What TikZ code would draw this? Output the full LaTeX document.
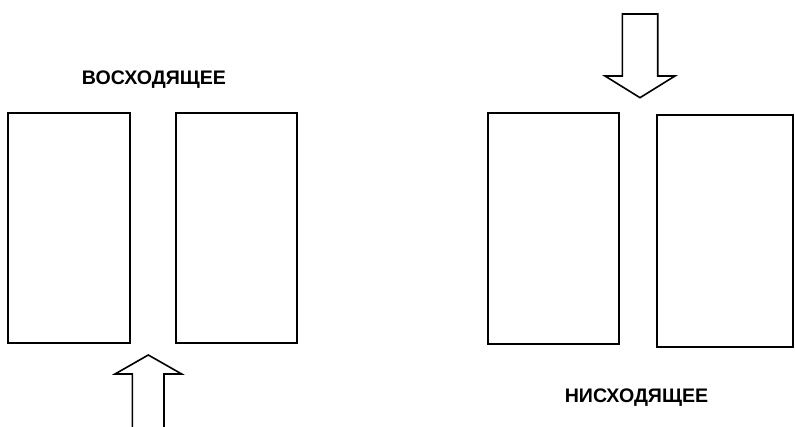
\documentclass[tikz,border=0pt]{standalone}
\usepackage{fontspec}
\setmainfont{Liberation Sans}
\usetikzlibrary{positioning}
\begin{document}
\begin{tikzpicture}[x=1pt,y=-1pt,line width=1.6pt,
  slab/.style={draw,rectangle,inner sep=0pt},
  caption/.style={font=\fontsize{19.6}{22}\selectfont\bfseries,inner sep=0pt},
  blockarrow/.style={draw,line join=miter}]
\useasboundingbox (0,0) rectangle (795,427);
% ascending flow
\node[slab,minimum width=122pt,minimum height=230pt] (upleft) at (69,228) {};
\node[slab,minimum width=121pt,minimum height=230pt] (upright) at (236.5,228) {};
\node[caption] (uplabel) at (154,80) {ВОСХОДЯЩЕЕ};
\draw[blockarrow] (132.3,430) -- (132.3,374) -- (115,374) -- (148.3,355) -- (181.7,374) -- (164,374) -- (164,430);
% descending flow
\node[slab,minimum width=131pt,minimum height=231pt] (downleft) at (553.5,228.5) {};
\node[slab,minimum width=136pt,minimum height=232pt] (downright) at (725,231) {};
\node[caption] (downlabel) at (636.5,398) {НИСХОДЯЩЕЕ};
\draw[blockarrow] (622.3,14) -- (657.7,14) -- (657.7,76) -- (675,76) -- (640,97.7) -- (605,76) -- (622.3,76) -- cycle;
\end{tikzpicture}
\end{document}
